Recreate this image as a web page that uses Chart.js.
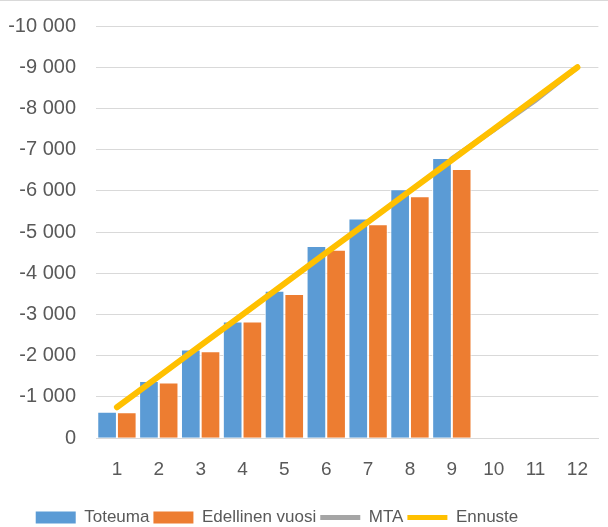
<!DOCTYPE html>
<html>
<head>
<meta charset="utf-8">
<script src="https://cdn.jsdelivr.net/npm/chart.js@4"></script>
<style>
  html, body { margin: 0; padding: 0; background: #fff; }
  #wrap { width: 608px; height: 527px; position: relative; box-sizing: border-box; border-top: 1px solid #d9d9d9; }
</style>
</head>
<body>
<div id="wrap"><canvas id="chart"></canvas></div>
<script>
const months = ["1", "2", "3", "4", "5", "6", "7", "8", "9", "10", "11", "12"];
const toteuma = [-640, -1390, -2150, -2830, -3580, -4660, -5330, -6040, -6800, null, null, null];
const edellinenVuosi = [-630, -1350, -2110, -2830, -3500, -4570, -5190, -5870, -6530, null, null, null];
const mta = [null, null, null, null, null, null, null, null, -6780, -7480, -8200, -9000];
const ennuste = [-750, -1500, -2250, -3000, -3750, -4500, -5250, -6000, -6750, -7500, -8250, -9000];
const yTicks = [0, -1000, -2000, -3000, -4000, -5000, -6000, -7000, -8000, -9000, -10000];

const textColor = "#595959";
const fontFamily = "'Liberation Sans', Arial, sans-serif";

// tuhaterotin välilyönnillä, kuten Excelissä
function formatValue(value) {
  const sign = value < 0 ? "-" : "";
  return sign + String(Math.abs(value)).replace(/\B(?=(\d{3})+(?!\d))/g, " ");
}

// selite hieman alemmas ja vasemmalle, kuten Excelin kuvassa
const legendNudge = {
  id: "legendNudge",
  afterLayout(chart) {
    const l = chart.legend;
    l.top += 9;
    l.bottom += 9;
    l.left -= 31;
    l.right -= 31;
  },
};

new Chart(document.getElementById("chart"), {
  type: "bar",
  data: {
    labels: months,
    datasets: [
      {
        label: "Toteuma",
        data: toteuma,
        backgroundColor: "#5B9BD5",
        borderColor: "#ffffff",
        borderWidth: 1,
        order: 2,
      },
      {
        label: "Edellinen vuosi",
        data: edellinenVuosi,
        backgroundColor: "#ED7D31",
        borderColor: "#ffffff",
        borderWidth: 1,
        order: 2,
      },
      {
        type: "line",
        label: "MTA",
        data: mta,
        borderColor: "#A5A5A5",
        backgroundColor: "#A5A5A5",
        borderWidth: 5,
        borderCapStyle: "round",
        pointRadius: 0,
        order: 1,
      },
      {
        type: "line",
        label: "Ennuste",
        data: ennuste,
        borderColor: "#FFC000",
        backgroundColor: "#FFC000",
        borderWidth: 6,
        borderCapStyle: "round",
        pointRadius: 0,
        order: 0,
      },
    ],
  },
  plugins: [legendNudge],
  options: {
    responsive: true,
    maintainAspectRatio: false,
    animation: false,
    layout: { padding: { top: 25, left: 8, right: 0, bottom: 0 } },
    datasets: {
      bar: { categoryPercentage: 0.94, barPercentage: 1 },
    },
    plugins: {
      tooltip: { enabled: false },
      legend: {
        position: "bottom",
        labels: {
          color: textColor,
          font: { family: fontFamily, size: 17 },
          usePointStyle: true,
          pointStyleWidth: 40,
          boxHeight: 12,
          padding: 4,
          generateLabels(chart) {
            return chart.data.datasets.map((ds, i) => ({
              text: ds.label,
              fillStyle: ds.backgroundColor,
              strokeStyle: ds.type === "line" ? ds.borderColor : ds.backgroundColor,
              lineWidth: ds.type === "line" ? 5 : 0,
              pointStyle: ds.type === "line" ? "line" : "rect",
              fontColor: textColor,
              hidden: false,
              datasetIndex: i,
            }));
          },
        },
      },
    },
    scales: {
      x: {
        grid: { display: false, drawTicks: false },
        border: { display: true, color: "#d9d9d9", width: 1 },
        ticks: {
          color: textColor,
          font: { family: fontFamily, size: 19 },
          padding: 20,
        },
        afterFit(axis) {
          axis.height -= 5;
        },
      },
      y: {
        reverse: true,
        min: -10000,
        max: 0,
        afterBuildTicks(axis) {
          axis.ticks = yTicks.map((v) => ({ value: v }));
        },
        afterFit(axis) {
          axis.width = 88;
          axis.paddingTop = 0;
          axis.paddingBottom = 0;
        },
        grid: { color: "#d9d9d9", lineWidth: 1, drawTicks: false },
        border: { display: false },
        ticks: {
          color: textColor,
          font: { family: fontFamily, size: 20 },
          padding: 20,
          callback(value) {
            return formatValue(value);
          },
        },
      },
    },
  },
});
</script>
</body>
</html>
